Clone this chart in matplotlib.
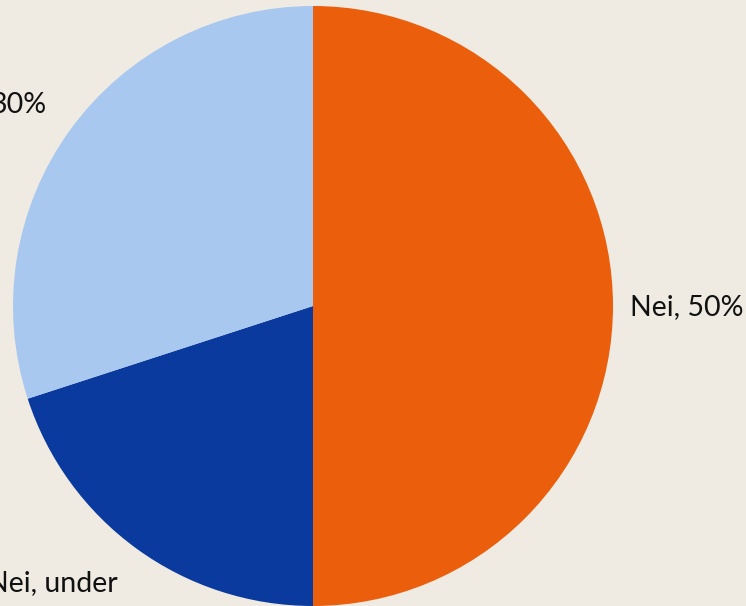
import matplotlib.pyplot as plt

# slice data (clockwise from 12 o'clock)
labels = ['Nei, 50%', 'Nei, under', '30%']
values = [50, 20, 30]
colors = ['#EB5F0C', '#0A3A9E', '#A9C8EF']

bg = '#EFEBE3'
plt.rcParams['font.family'] = ['Lato', 'DejaVu Sans']

W, H = 746, 606
fig = plt.figure(figsize=(W / 100, H / 100), dpi=100, facecolor=bg)

# pie centre at (313, 306) px, radius 300 px
cx, cy, r = 313, 306, 300
ax = fig.add_axes([(cx - r) / W, (H - cy - r) / H, 2 * r / W, 2 * r / H])
ax.set_facecolor(bg)

wedges, _ = ax.pie(values, colors=colors, startangle=90, counterclock=False,
                   radius=1, wedgeprops=dict(linewidth=0))
ax.set_xlim(-1, 1)
ax.set_ylim(-1, 1)
ax.set_aspect('equal')
ax.axis('off')

# labels, placed in pixel positions converted to data units
def px(x, y):
    return (x - cx) / r, (cy - y) / r

fs = 20.5
lx, ly = px(630, 307)
ax.text(lx, ly, labels[0], ha='left', va='center', fontsize=fs, color='#111111', clip_on=False)
lx, ly = px(47, 105)
ax.text(lx, ly, labels[2], ha='right', va='center', fontsize=fs, color='#111111', clip_on=False)
lx, ly = px(118, 583)
ax.text(lx, ly, labels[1], ha='right', va='center', fontsize=fs, color='#111111', clip_on=False)

fig.savefig('out.png', dpi=100, facecolor=bg)
